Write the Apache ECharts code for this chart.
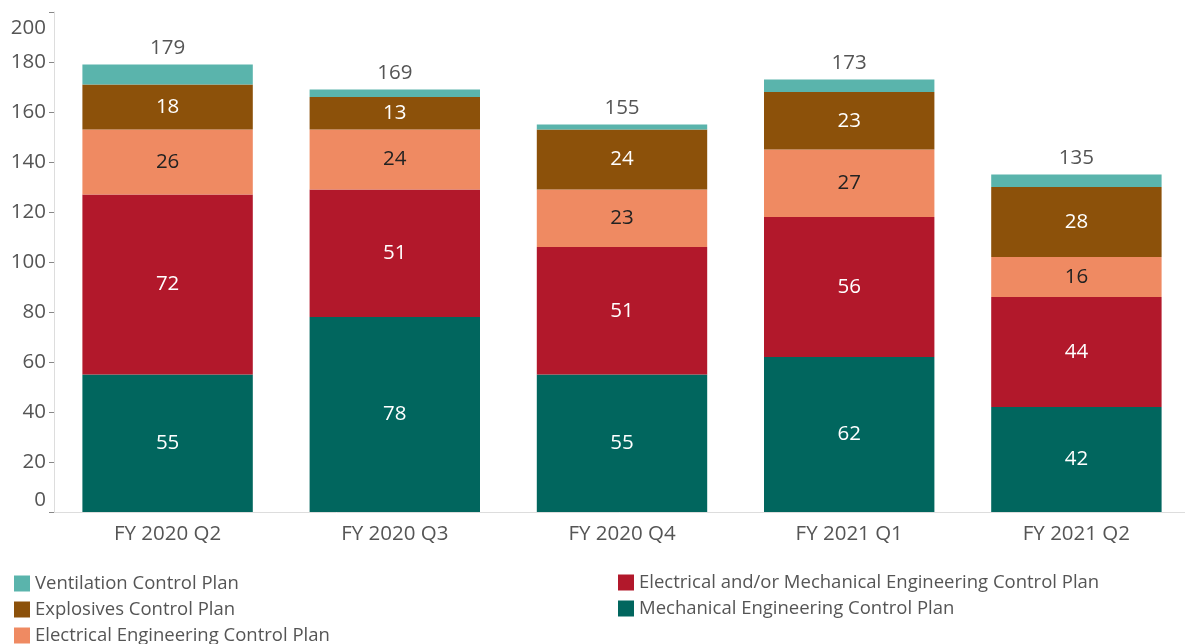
<!DOCTYPE html>
<html>
<head>
<meta charset="utf-8">
<script src="https://cdn.jsdelivr.net/npm/echarts@6/dist/echarts.min.js"></script>
<style>
  html, body { margin: 0; padding: 0; background: #fff; }
  #chart { width: 1185px; height: 644px; }
</style>
</head>
<body>
<div id="chart"></div>
<script>
// Control plans by fiscal quarter
const quarters = ['FY 2020 Q2', 'FY 2020 Q3', 'FY 2020 Q4', 'FY 2021 Q1', 'FY 2021 Q2'];
const mechanical = [55, 78, 55, 62, 42];
const elecOrMech = [72, 51, 51, 56, 44];
const electrical = [26, 24, 23, 27, 16];
const explosives = [18, 13, 24, 23, 28];
const ventilation = [8, 3, 2, 5, 5];
const totals = [179, 169, 155, 173, 135];
const yTicks = [0, 20, 40, 60, 80, 100, 120, 140, 160, 180, 200];

const FONT = 'Open Sans';
const GRAY = '#555';
const FS = 20.5;

function seg(name, data, color, labelColor, showLabel) {
  return {
    name: name,
    type: 'bar',
    stack: 'plans',
    data: data,
    barWidth: '75%',
    itemStyle: { color: color },
    label: {
      show: showLabel,
      position: 'inside',
      color: labelColor,
      fontFamily: FONT,
      fontSize: FS
    },
    emphasis: { disabled: true }
  };
}

const series = [
  seg('Mechanical Engineering Control Plan', mechanical, '#01665e', '#fff', true),
  seg('Electrical and/or Mechanical Engineering Control Plan', elecOrMech, '#b2182b', '#fff', true),
  seg('Electrical Engineering Control Plan', electrical, '#ef8a62', '#222', true),
  seg('Explosives Control Plan', explosives, '#8c510a', '#fff', true),
  seg('Ventilation Control Plan', ventilation, '#5ab4ac', '#fff', false)
];
// Totals sit above the top segment
series[4].label = {
  show: true,
  position: 'top',
  distance: 6,
  color: GRAY,
  fontFamily: FONT,
  fontSize: FS,
  formatter: p => String(totals[p.dataIndex])
};

const legendText = { color: GRAY, fontFamily: FONT, fontSize: 18.5 };

const chart = echarts.init(document.getElementById('chart'), null, { renderer: 'canvas' });
chart.setOption({
  animation: false,
  grid: { left: 54, width: 1136, top: 12, bottom: 132, containLabel: false, outerBoundsMode: 'none' },
  xAxis: {
    type: 'category',
    data: quarters,
    axisLine: { lineStyle: { color: '#ddd' } },
    axisTick: { show: false },
    axisLabel: { color: GRAY, fontFamily: FONT, fontSize: FS, margin: 12 }
  },
  yAxis: {
    type: 'value',
    min: yTicks[0],
    max: yTicks[yTicks.length - 1],
    interval: 20,
    splitLine: { show: false },
    axisLine: { show: true, lineStyle: { color: '#ddd' } },
    axisTick: { show: true, length: 5, lineStyle: { color: '#888' } },
    axisLabel: {
      color: GRAY,
      fontFamily: FONT,
      fontSize: FS,
      margin: 8,
      formatter: v => v === 200 ? '{top|' + v + '}' : (v === 0 ? '{bot|' + v + '}' : String(v)),
      rich: {
        top: { color: GRAY, fontFamily: FONT, fontSize: FS, padding: [32, 0, 0, 0] },
        bot: { color: GRAY, fontFamily: FONT, fontSize: FS, padding: [0, 0, 24, 0] }
      }
    }
  },
  legend: [
    {
      orient: 'vertical',
      left: 14,
      top: 574,
      height: 80,
      padding: 0,
      itemWidth: 16,
      itemHeight: 16,
      itemGap: 7,
      icon: 'rect',
      selectedMode: false,
      textStyle: legendText,
      data: ['Ventilation Control Plan', 'Explosives Control Plan', 'Electrical Engineering Control Plan']
    },
    {
      orient: 'vertical',
      left: 618,
      top: 573,
      height: 80,
      padding: 0,
      itemWidth: 16,
      itemHeight: 16,
      itemGap: 7,
      icon: 'rect',
      selectedMode: false,
      textStyle: legendText,
      data: ['Electrical and/or Mechanical Engineering Control Plan', 'Mechanical Engineering Control Plan']
    }
  ],
  series: series
});
</script>
</body>
</html>
